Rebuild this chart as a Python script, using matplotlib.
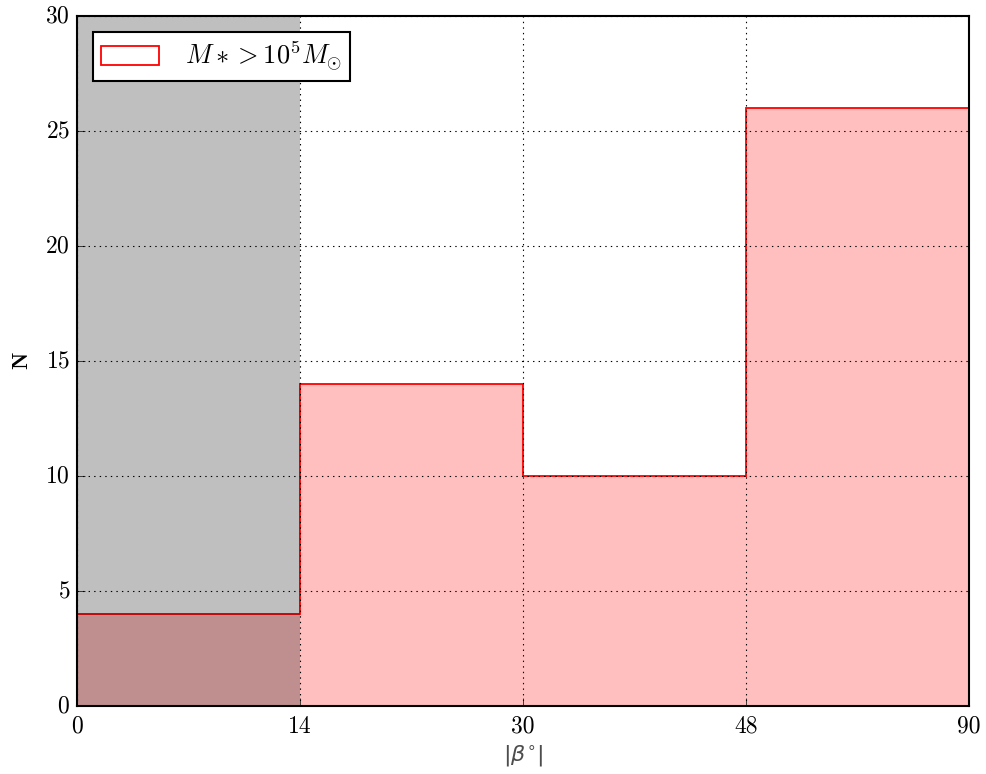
import matplotlib
matplotlib.use('Agg')
import matplotlib.pyplot as plt
from matplotlib.patches import Rectangle
import numpy as np

# latitude bins |beta| and counts per bin
bin_edges = [0, 14, 30, 48, 90]
counts = [4, 14, 10, 26]
yticks = [0, 5, 10, 15, 20, 25, 30]
label = r'$M* > 10^5 M_{\odot}$'


def plot():
    plt.style.use('classic')
    plt.rcParams['mathtext.fontset'] = 'cm'
    plt.rcParams['font.family'] = 'cmr10'
    plt.rcParams['axes.formatter.use_mathtext'] = True
    plt.rcParams['axes.unicode_minus'] = False

    fig = plt.figure(figsize=(9.86, 7.74), dpi=100, facecolor='white')
    ax = fig.add_axes([0.0781, 0.0879, 0.9047, 0.8914])

    # bins are drawn at equal width, labelled with their edges
    idx = np.arange(len(bin_edges))
    ax.stairs(counts, idx, fill=True, color='red', alpha=0.25, lw=0, zorder=1)
    ax.stairs(counts, idx, fill=False, edgecolor='red', lw=1.3, zorder=2)
    # excluded low-latitude region
    ax.axvspan(idx[0], idx[1], color='black', alpha=0.25, lw=0, zorder=2.2)

    ax.grid(True, color='black', linestyle=':', lw=0.8)
    ax.set_axisbelow(False)
    ax.set_xlim(idx[0], idx[-1])
    ax.set_ylim(0, 30)
    ax.set_xticks(idx)
    ax.set_xticklabels([str(b) for b in bin_edges])
    ax.set_yticks(yticks)
    ax.tick_params(labelsize=17, direction='in', length=6, top=False, right=False)
    ax.tick_params(axis='x', pad=7)
    ax.tick_params(axis='y', pad=5)
    ax.set_xlabel(r'$|\beta^{\circ}|$', fontsize=16, color='0.3',
                  math_fontfamily='dejavusans', labelpad=4)
    ax.set_ylabel(r'$\mathbf{N}$', fontsize=16, labelpad=10)
    for s in ax.spines.values():
        s.set_linewidth(1.5)

    handle = Rectangle((0, 0), 1, 1, facecolor='white', edgecolor='red', lw=1.3)
    leg = ax.legend([handle], [label], loc='upper left', fontsize=19,
                    frameon=True, fancybox=False, handlelength=2.2,
                    handletextpad=1.0, borderpad=0.3, borderaxespad=0.6)
    leg.get_frame().set_linewidth(1.5)
    leg.get_frame().set_edgecolor('black')

    fig.savefig('out.png', dpi=100, facecolor='white')


if __name__ == '__main__':
    plot()
